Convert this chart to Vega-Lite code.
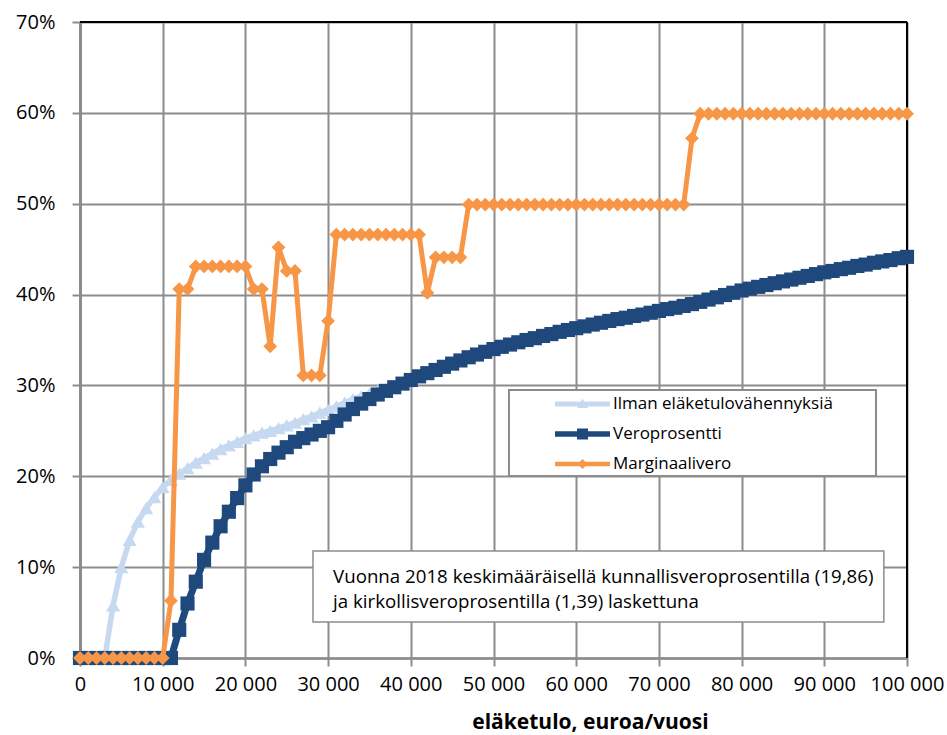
{
  "$schema": "https://vega.github.io/schema/vega-lite/v6.json",
  "width": 827,
  "height": 636,
  "autosize": {"type": "none"},
  "padding": {"left": 80, "top": 22, "right": 40, "bottom": 77},
  "background": "white",
  "datasets": {
    "tax": [
      {"x": 0, "a": 0, "b": 0, "c": 0},
      {"x": 1000, "a": 0, "b": 0, "c": 0},
      {"x": 2000, "a": 0, "b": 0, "c": 0},
      {"x": 3000, "a": 0, "b": 0, "c": 0},
      {"x": 4000, "a": 5.8, "b": 0, "c": 0},
      {"x": 5000, "a": 10.0, "b": 0, "c": 0},
      {"x": 6000, "a": 13.0, "b": 0, "c": 0},
      {"x": 7000, "a": 15.0, "b": 0, "c": 0},
      {"x": 8000, "a": 16.5, "b": 0, "c": 0},
      {"x": 9000, "a": 17.7, "b": 0, "c": 0},
      {"x": 10000, "a": 18.8, "b": 0, "c": 0},
      {"x": 11000, "a": 19.6, "b": 0, "c": 6.3},
      {"x": 12000, "a": 20.3, "b": 3.1, "c": 40.6},
      {"x": 13000, "a": 20.9, "b": 6.0, "c": 40.6},
      {"x": 14000, "a": 21.5, "b": 8.4, "c": 43.1},
      {"x": 15000, "a": 22.0, "b": 10.8, "c": 43.1},
      {"x": 16000, "a": 22.5, "b": 12.7, "c": 43.1},
      {"x": 17000, "a": 23.0, "b": 14.5, "c": 43.1},
      {"x": 18000, "a": 23.4, "b": 16.1, "c": 43.1},
      {"x": 19000, "a": 23.8, "b": 17.6, "c": 43.1},
      {"x": 20000, "a": 24.2, "b": 19.0, "c": 43.1},
      {"x": 21000, "a": 24.5, "b": 20.2, "c": 40.6},
      {"x": 22000, "a": 24.8, "b": 21.1, "c": 40.6},
      {"x": 23000, "a": 25.0, "b": 21.9, "c": 34.3},
      {"x": 24000, "a": 25.3, "b": 22.6, "c": 45.2},
      {"x": 25000, "a": 25.6, "b": 23.2, "c": 42.6},
      {"x": 26000, "a": 25.9, "b": 23.8, "c": 42.6},
      {"x": 27000, "a": 26.3, "b": 24.2, "c": 31.1},
      {"x": 28000, "a": 26.6, "b": 24.6, "c": 31.1},
      {"x": 29000, "a": 27.0, "b": 25.0, "c": 31.1},
      {"x": 30000, "a": 27.3, "b": 25.4, "c": 37.1},
      {"x": 31000, "a": 27.7, "b": 26.1, "c": 46.6},
      {"x": 32000, "a": 28.1, "b": 26.8, "c": 46.6},
      {"x": 33000, "a": 28.5, "b": 27.4, "c": 46.6},
      {"x": 34000, "a": 28.8, "b": 28.0, "c": 46.6},
      {"x": 35000, "a": 29.1, "b": 28.5, "c": 46.6},
      {"x": 36000, "a": 29.4, "b": 29.0, "c": 46.6},
      {"x": 37000, "a": 29.6, "b": 29.4, "c": 46.6},
      {"x": 38000, "a": 29.85, "b": 29.8, "c": 46.6},
      {"x": 39000, "a": 30.2, "b": 30.2, "c": 46.6},
      {"x": 40000, "a": 30.6, "b": 30.6, "c": 46.6},
      {"x": 41000, "a": 31.0, "b": 31.0, "c": 46.6},
      {"x": 42000, "a": 31.35, "b": 31.35, "c": 40.2},
      {"x": 43000, "a": 31.7, "b": 31.7, "c": 44.1},
      {"x": 44000, "a": 32.05, "b": 32.05, "c": 44.1},
      {"x": 45000, "a": 32.4, "b": 32.4, "c": 44.1},
      {"x": 46000, "a": 32.75, "b": 32.75, "c": 44.1},
      {"x": 47000, "a": 33.1, "b": 33.1, "c": 49.9},
      {"x": 48000, "a": 33.4, "b": 33.4, "c": 49.9},
      {"x": 49000, "a": 33.7, "b": 33.7, "c": 49.9},
      {"x": 50000, "a": 34.0, "b": 34.0, "c": 49.9},
      {"x": 51000, "a": 34.25, "b": 34.25, "c": 49.9},
      {"x": 52000, "a": 34.5, "b": 34.5, "c": 49.9},
      {"x": 53000, "a": 34.75, "b": 34.75, "c": 49.9},
      {"x": 54000, "a": 35.0, "b": 35.0, "c": 49.9},
      {"x": 55000, "a": 35.2, "b": 35.2, "c": 49.9},
      {"x": 56000, "a": 35.45, "b": 35.45, "c": 49.9},
      {"x": 57000, "a": 35.65, "b": 35.65, "c": 49.9},
      {"x": 58000, "a": 35.9, "b": 35.9, "c": 49.9},
      {"x": 59000, "a": 36.1, "b": 36.1, "c": 49.9},
      {"x": 60000, "a": 36.3, "b": 36.3, "c": 49.9},
      {"x": 61000, "a": 36.5, "b": 36.5, "c": 49.9},
      {"x": 62000, "a": 36.7, "b": 36.7, "c": 49.9},
      {"x": 63000, "a": 36.9, "b": 36.9, "c": 49.9},
      {"x": 64000, "a": 37.1, "b": 37.1, "c": 49.9},
      {"x": 65000, "a": 37.3, "b": 37.3, "c": 49.9},
      {"x": 66000, "a": 37.45, "b": 37.45, "c": 49.9},
      {"x": 67000, "a": 37.65, "b": 37.65, "c": 49.9},
      {"x": 68000, "a": 37.8, "b": 37.8, "c": 49.9},
      {"x": 69000, "a": 38.0, "b": 38.0, "c": 49.9},
      {"x": 70000, "a": 38.2, "b": 38.2, "c": 49.9},
      {"x": 71000, "a": 38.4, "b": 38.4, "c": 49.9},
      {"x": 72000, "a": 38.55, "b": 38.55, "c": 49.9},
      {"x": 73000, "a": 38.75, "b": 38.75, "c": 49.9},
      {"x": 74000, "a": 38.95, "b": 38.95, "c": 57.2},
      {"x": 75000, "a": 39.2, "b": 39.2, "c": 59.9},
      {"x": 76000, "a": 39.45, "b": 39.45, "c": 59.9},
      {"x": 77000, "a": 39.7, "b": 39.7, "c": 59.9},
      {"x": 78000, "a": 39.95, "b": 39.95, "c": 59.9},
      {"x": 79000, "a": 40.2, "b": 40.2, "c": 59.9},
      {"x": 80000, "a": 40.45, "b": 40.45, "c": 59.9},
      {"x": 81000, "a": 40.65, "b": 40.65, "c": 59.9},
      {"x": 82000, "a": 40.85, "b": 40.85, "c": 59.9},
      {"x": 83000, "a": 41.05, "b": 41.05, "c": 59.9},
      {"x": 84000, "a": 41.25, "b": 41.25, "c": 59.9},
      {"x": 85000, "a": 41.45, "b": 41.45, "c": 59.9},
      {"x": 86000, "a": 41.65, "b": 41.65, "c": 59.9},
      {"x": 87000, "a": 41.85, "b": 41.85, "c": 59.9},
      {"x": 88000, "a": 42.05, "b": 42.05, "c": 59.9},
      {"x": 89000, "a": 42.25, "b": 42.25, "c": 59.9},
      {"x": 90000, "a": 42.45, "b": 42.45, "c": 59.9},
      {"x": 91000, "a": 42.6, "b": 42.6, "c": 59.9},
      {"x": 92000, "a": 42.8, "b": 42.8, "c": 59.9},
      {"x": 93000, "a": 42.95, "b": 42.95, "c": 59.9},
      {"x": 94000, "a": 43.15, "b": 43.15, "c": 59.9},
      {"x": 95000, "a": 43.3, "b": 43.3, "c": 59.9},
      {"x": 96000, "a": 43.5, "b": 43.5, "c": 59.9},
      {"x": 97000, "a": 43.65, "b": 43.65, "c": 59.9},
      {"x": 98000, "a": 43.8, "b": 43.8, "c": 59.9},
      {"x": 99000, "a": 44.0, "b": 44.0, "c": 59.9},
      {"x": 100000, "a": 44.15, "b": 44.15, "c": 59.9}
    ],
    "series": [
      {"s": "Ilman eläketulovähennyksiä"},
      {"s": "Veroprosentti"},
      {"s": "Marginaalivero"}
    ],
    "one": [{}]
  },
  "layer": [
    {
      "data": {"name": "tax"},
      "mark": {"type": "line", "color": "#C6D9F1", "strokeWidth": 5.5},
      "encoding": {
        "x": {
          "field": "x", "type": "quantitative",
          "scale": {"domain": [0, 100000], "nice": false, "zero": false},
          "axis": {
            "values": [0, 10000, 20000, 30000, 40000, 50000, 60000, 70000, 80000, 90000, 100000],
            "labelExpr": "replace(format(datum.value, ','), ',', ' ')",
            "domainWidth": 2.5,
            "labelPadding": 8,
            "title": "eläketulo, euroa/vuosi",
            "titleFontSize": 21,
            "titleFontWeight": "bold",
            "titleFont": "Open Sans",
            "titleX": 510,
            "titleY": 70,
            "titleAlign": "center",
            "titleBaseline": "alphabetic"
          }
        },
        "y": {
          "field": "a", "type": "quantitative",
          "scale": {"domain": [0, 70], "nice": false},
          "axis": {
            "values": [0, 10, 20, 30, 40, 50, 60, 70],
            "labelExpr": "datum.value + '%'",
            "domainWidth": 3,
            "labelPadding": 17,
            "title": null
          }
        }
      }
    },
    {
      "data": {"name": "one"},
      "mark": {"type": "rule", "color": "#000000", "strokeWidth": 2},
      "encoding": {"y": {"datum": 70, "type": "quantitative"}}
    },
    {
      "data": {"name": "one"},
      "mark": {"type": "rule", "color": "#000000", "strokeWidth": 2},
      "encoding": {"x": {"datum": 100000, "type": "quantitative"}}
    },
    {
      "data": {"name": "tax"},
      "mark": {"type": "point", "shape": "triangle-up", "filled": true, "opacity": 1, "color": "#C6D9F1", "size": 200},
      "encoding": {
        "x": {"field": "x", "type": "quantitative"},
        "y": {"field": "a", "type": "quantitative"}
      }
    },
    {
      "data": {"name": "tax"},
      "mark": {"type": "line", "color": "#1F497D", "strokeWidth": 7},
      "encoding": {
        "x": {"field": "x", "type": "quantitative"},
        "y": {"field": "b", "type": "quantitative"}
      }
    },
    {
      "data": {"name": "tax"},
      "mark": {"type": "point", "shape": "square", "filled": true, "opacity": 1, "color": "#1F497D", "size": 200},
      "encoding": {
        "x": {"field": "x", "type": "quantitative"},
        "y": {"field": "b", "type": "quantitative"}
      }
    },
    {
      "data": {"name": "tax"},
      "mark": {"type": "line", "color": "#F79646", "strokeWidth": 5},
      "encoding": {
        "x": {"field": "x", "type": "quantitative"},
        "y": {"field": "c", "type": "quantitative"}
      }
    },
    {
      "data": {"name": "tax"},
      "mark": {"type": "point", "shape": "diamond", "filled": true, "opacity": 1, "color": "#F79646", "size": 190},
      "encoding": {
        "x": {"field": "x", "type": "quantitative"},
        "y": {"field": "c", "type": "quantitative"}
      }
    },
    {
      "data": {"name": "one"},
      "mark": {"type": "rect", "fill": "white", "stroke": "#8c8c8c", "strokeWidth": 2},
      "encoding": {
        "x": {"datum": 51870, "type": "quantitative"},
        "x2": {"datum": 96250},
        "y": {"datum": 29.5, "type": "quantitative"},
        "y2": {"datum": 20.03}
      }
    },
    {
      "data": {"name": "one"},
      "mark": {"type": "rect", "fill": "white", "stroke": "#8c8c8c", "strokeWidth": 1.5},
      "encoding": {
        "x": {"datum": 28170, "type": "quantitative"},
        "x2": {"datum": 97200},
        "y": {"datum": 11.78, "type": "quantitative"},
        "y2": {"datum": 3.96}
      }
    },
    {
      "data": {"name": "one"},
      "mark": {"type": "text", "align": "left", "baseline": "alphabetic", "fontSize": 18.7, "font": "Open Sans", "color": "#000000", "lineHeight": 25},
      "encoding": {
        "x": {"datum": 30600, "type": "quantitative"},
        "y": {"datum": 8.25, "type": "quantitative"},
        "text": {"value": ["Vuonna 2018 keskimääräisellä kunnallisveroprosentilla (19,86)", "ja kirkollisveroprosentilla (1,39) laskettuna"]}
      }
    },
    {
      "data": {"name": "series"},
      "mark": {"type": "point", "filled": true, "opacity": 0, "size": 1},
      "encoding": {
        "x": {"datum": 0, "type": "quantitative"},
        "y": {"datum": 0, "type": "quantitative"},
        "color": {
          "field": "s", "type": "nominal",
          "scale": {"domain": ["Ilman eläketulovähennyksiä", "Veroprosentti", "Marginaalivero"], "range": ["#C6D9F1", "#1F497D", "#F79646"]},
          "legend": {
            "orient": "none", "legendX": 475, "legendY": 373.5, "title": null, "padding": 0,
            "direction": "vertical", "columns": 1,
            "symbolSize": 100, "symbolStrokeWidth": 0, "symbolOpacity": 1,
            "symbolOffset": 19, "labelOffset": 22, "rowPadding": 12,
            "labelFontSize": 17, "labelFont": "Open Sans", "labelColor": "#000000", "labelLimit": 400
          }
        },
        "shape": {
          "field": "s", "type": "nominal",
          "scale": {"domain": ["Ilman eläketulovähennyksiä", "Veroprosentti", "Marginaalivero"], "range": ["M-5.5,-0.5H5.5V0.5H-5.5Z M0,-1.1L1.1,0.8H-1.1Z", "M-5.5,-0.55H5.5V0.55H-5.5Z M-1.1,-1.1H1.1V1.1H-1.1Z", "M-5.5,-0.45H5.5V0.45H-5.5Z M0,-1L1,0L0,1L-1,0Z"]},
          "legend": {
            "orient": "none", "legendX": 475, "legendY": 373.5, "title": null, "padding": 0,
            "direction": "vertical", "columns": 1,
            "symbolSize": 100, "symbolStrokeWidth": 0, "symbolOpacity": 1,
            "symbolOffset": 19, "labelOffset": 22, "rowPadding": 12,
            "labelFontSize": 17, "labelFont": "Open Sans", "labelColor": "#000000", "labelLimit": 400
          }
        }
      }
    }
  ],
  "config": {
    "font": "Open Sans",
    "view": {"stroke": null},
    "axis": {
      "grid": true,
      "gridColor": "#8c8c8c",
      "gridWidth": 2,
      "domainColor": "#8c8c8c",
      "tickColor": "#8c8c8c",
      "tickWidth": 2,
      "tickSize": 8,
      "labelFontSize": 20,
      "labelFont": "Open Sans",
      "labelColor": "#000000",
      "titleColor": "#000000",
      "labelFlush": false,
      "labelOverlap": false
    }
  }
}
